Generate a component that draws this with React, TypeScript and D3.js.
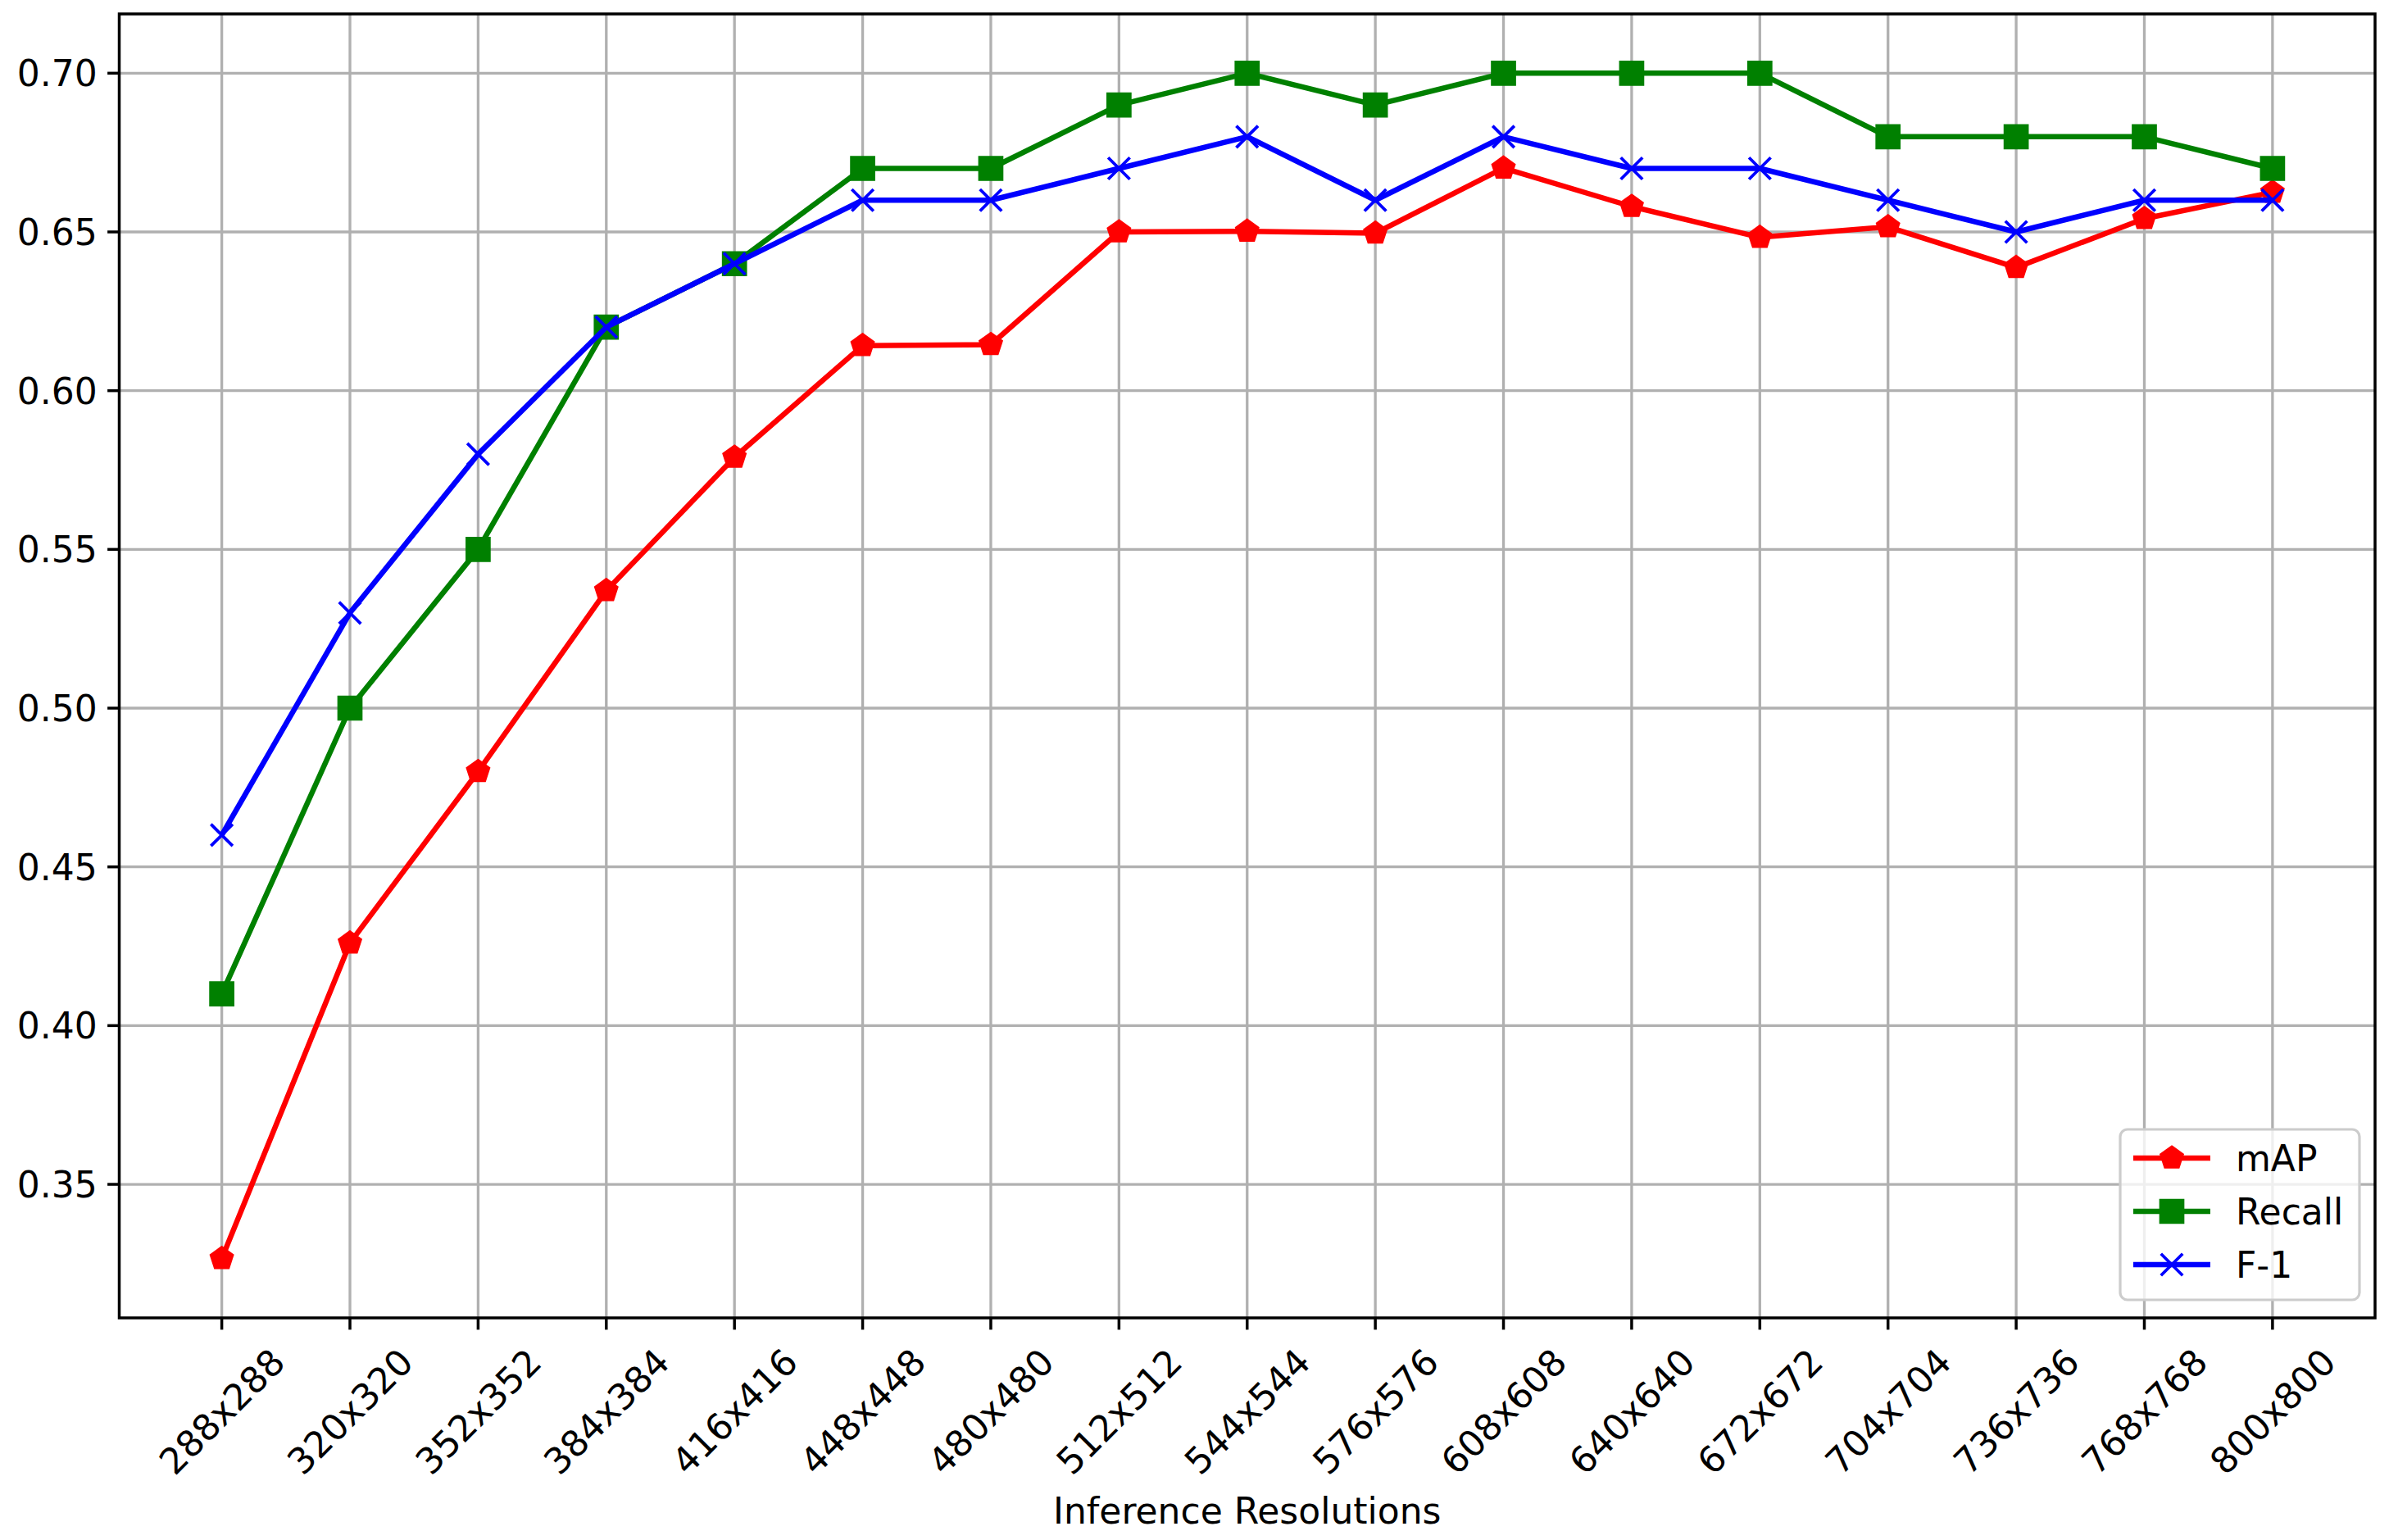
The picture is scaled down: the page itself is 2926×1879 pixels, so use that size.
import React from 'react';
import * as d3 from 'd3';

// values
const resolutions = [
  '288x288', '320x320', '352x352', '384x384', '416x416', '448x448',
  '480x480', '512x512', '544x544', '576x576', '608x608', '640x640',
  '672x672', '704x704', '736x736', '768x768', '800x800',
];
const mapValues = [
  0.3266, 0.426, 0.48, 0.537, 0.579, 0.6142, 0.6145, 0.65, 0.6502, 0.6496,
  0.6701, 0.658, 0.6483, 0.6516, 0.6388, 0.6542, 0.6625,
];
const recallValues = [
  0.41, 0.5, 0.55, 0.62, 0.64, 0.67, 0.67, 0.69, 0.7, 0.69,
  0.7, 0.7, 0.7, 0.68, 0.68, 0.68, 0.67,
];
const f1Values = [
  0.46, 0.53, 0.58, 0.62, 0.64, 0.66, 0.66, 0.67, 0.68, 0.66,
  0.68, 0.67, 0.67, 0.66, 0.65, 0.66, 0.66,
];
const yTicks = [0.35, 0.4, 0.45, 0.5, 0.55, 0.6, 0.65, 0.7];
const seriesNames = ['mAP', 'Recall', 'F-1'];
const seriesColors = ['#ff0000', '#008000', '#0000ff'];
const seriesMarkers = ['pentagon', 'square', 'x'];
const xLabel = 'Inference Resolutions';

const W = 2926;
const H = 1879;
const plot = { left: 145.5, right: 2898, top: 17, bottom: 1608 };
const FONT = '"DejaVu Sans", Verdana, sans-serif';
const FS = 44;
const LW = 6.5;
const MS = 26.5;
const MEW = 4.2;

const markerPath = (kind: string, s: number) => {
  const r = s / 2;
  if (kind === 'square') return `M${-r},${-r}H${r}V${r}H${-r}Z`;
  if (kind === 'x') return `M${-r},${-r}L${r},${r}M${-r},${r}L${r},${-r}`;
  const pts = d3.range(5).map((i) => {
    const a = -Math.PI / 2 + (i * 2 * Math.PI) / 5;
    return [r * Math.cos(a), r * Math.sin(a)];
  });
  return 'M' + pts.map((p) => p.join(',')).join('L') + 'Z';
};

const Marker = ({ kind, color, x, y }: any) => (
  <path
    d={markerPath(kind, MS)}
    transform={`translate(${x},${y})`}
    fill={kind === 'x' ? 'none' : color}
    stroke={color}
    strokeWidth={kind === 'x' ? 3.8 : MEW}
    strokeLinejoin="miter"
  />
);

export default function App() {
  const series = [mapValues, recallValues, f1Values];
  const all = series.flat();
  const lo = d3.min(all) as number;
  const hi = d3.max(all) as number;
  const pad = (hi - lo) * 0.05;

  const x = d3.scalePoint<string>().domain(resolutions).range([plot.left, plot.right]).padding(0.8);
  const y = d3.scaleLinear().domain([lo - pad, hi + pad]).range([plot.bottom, plot.top]);
  const line = d3
    .line<number>()
    .x((_, i) => x(resolutions[i]) as number)
    .y((d) => y(d));

  const fmt = d3.format('.2f');
  const tickLen = 14.4;
  const tickPad = 14.4;

  // legend box, lower right
  const lgRight = plot.right - 19;
  const lgBottom = plot.bottom - 22;
  const lgW = 292;
  const lgH = 208;
  const lgLeft = lgRight - lgW;
  const lgTop = lgBottom - lgH;
  const rowY = (i: number) => lgTop + 35 + i * 65;

  return (
    <svg
      width={W}
      height={H}
      style={{ position: 'absolute', left: 0, top: 0, display: 'block', background: '#fff' }}
      fontFamily={FONT}
    >
      <rect x={0} y={0} width={W} height={H} fill="#fff" />

      {/* grid */}
      <g stroke="#b0b0b0" strokeWidth={3.3}>
        {resolutions.map((r) => (
          <line key={r} x1={x(r)} x2={x(r)} y1={plot.top} y2={plot.bottom} />
        ))}
        {yTicks.map((t) => (
          <line key={t} x1={plot.left} x2={plot.right} y1={y(t)} y2={y(t)} />
        ))}
      </g>

      {/* series */}
      {series.map((vals, si) => (
        <g key={seriesNames[si]}>
          <path d={line(vals) as string} fill="none" stroke={seriesColors[si]} strokeWidth={LW} strokeLinejoin="round" />
          {vals.map((v, i) => (
            <Marker key={i} kind={seriesMarkers[si]} color={seriesColors[si]} x={x(resolutions[i])} y={y(v)} />
          ))}
        </g>
      ))}

      {/* spines */}
      <rect
        x={plot.left}
        y={plot.top}
        width={plot.right - plot.left}
        height={plot.bottom - plot.top}
        fill="none"
        stroke="#000"
        strokeWidth={3.5}
      />

      {/* y axis */}
      <g>
        {yTicks.map((t) => (
          <g key={t}>
            <line x1={plot.left - tickLen} x2={plot.left} y1={y(t)} y2={y(t)} stroke="#000" strokeWidth={3.5} />
            <text
              x={plot.left - tickLen - tickPad + 2}
              y={y(t)}
              dy="0.36em"
              textAnchor="end"
              fontSize={FS}
              fill="#000"
            >
              {fmt(t)}
            </text>
          </g>
        ))}
      </g>

      {/* x axis */}
      <g>
        {resolutions.map((r) => (
          <g key={r}>
            <line x1={x(r)} x2={x(r)} y1={plot.bottom} y2={plot.bottom + tickLen} stroke="#000" strokeWidth={3.5} />
            <text
              transform={`translate(${x(r)},${plot.bottom + 114}) rotate(-45)`}
              dy="0.36em"
              textAnchor="middle"
              fontSize={FS}
              fill="#000"
            >
              {r}
            </text>
          </g>
        ))}
        <text x={(plot.left + plot.right) / 2} y={1859} textAnchor="middle" fontSize={FS} fill="#000">
          {xLabel}
        </text>
      </g>

      {/* legend */}
      <g>
        <rect
          x={lgLeft}
          y={lgTop}
          width={lgW}
          height={lgH}
          rx={9}
          fill="#fff"
          fillOpacity={0.8}
          stroke="#cccccc"
          strokeWidth={3.2}
        />
        {seriesNames.map((name, i) => (
          <g key={name}>
            <line
              x1={lgLeft + 16}
              x2={lgLeft + 110}
              y1={rowY(i)}
              y2={rowY(i)}
              stroke={seriesColors[i]}
              strokeWidth={LW}
            />
            <Marker kind={seriesMarkers[i]} color={seriesColors[i]} x={lgLeft + 63} y={rowY(i)} />
            <text x={lgLeft + 141} y={rowY(i)} dy="0.36em" fontSize={FS} fill="#000">
              {name}
            </text>
          </g>
        ))}
      </g>
    </svg>
  );
}
